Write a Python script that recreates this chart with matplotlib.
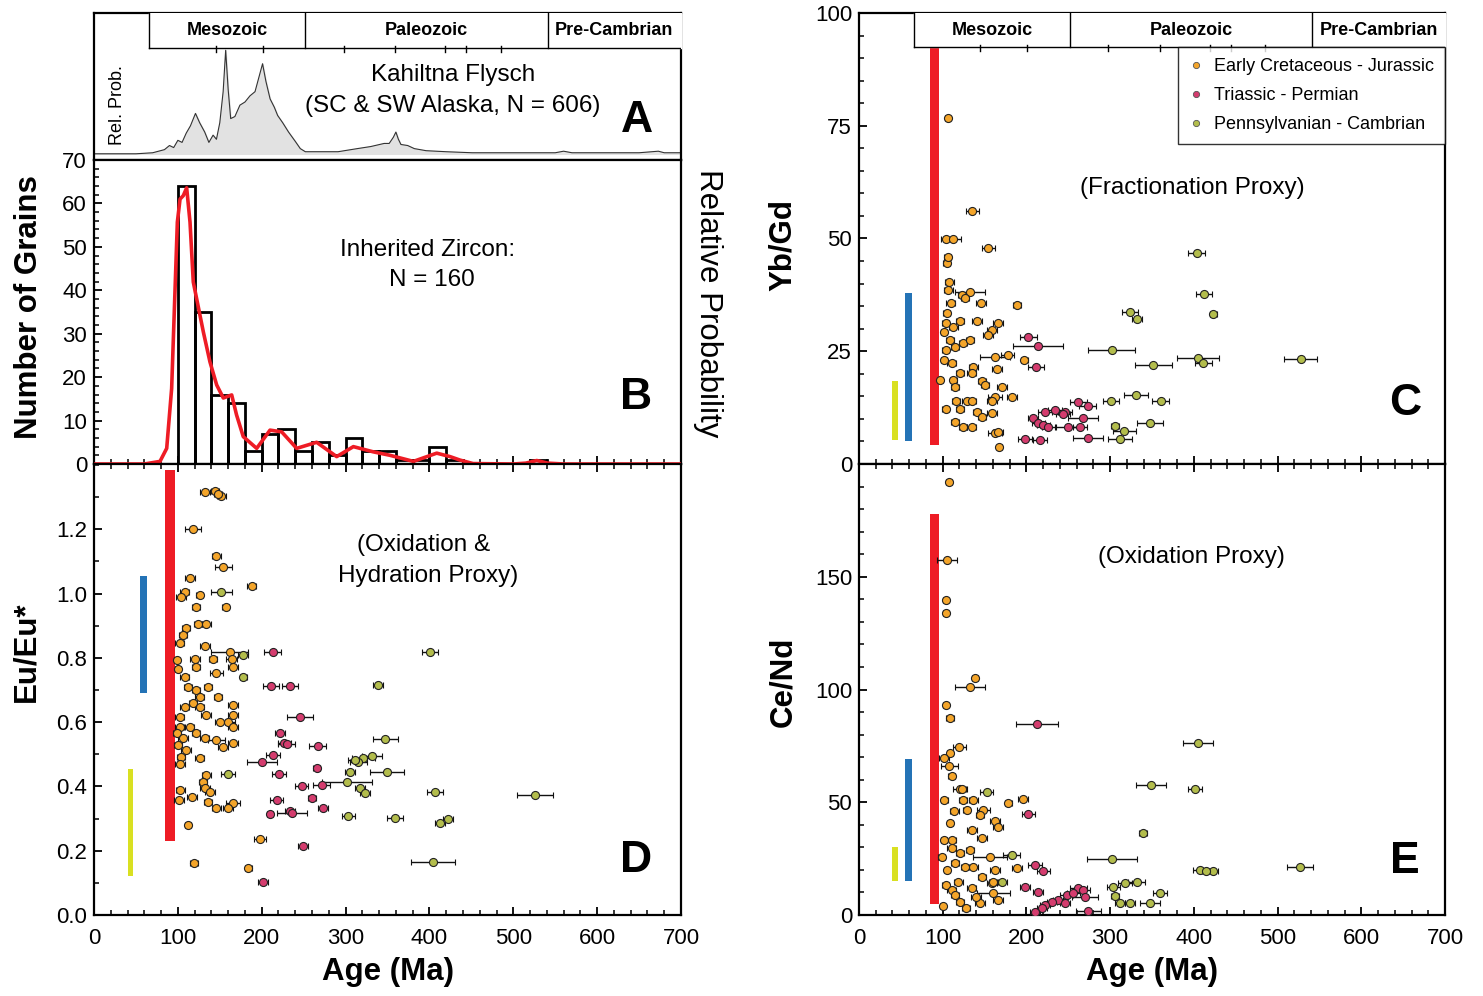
import matplotlib
matplotlib.use('Agg')
import matplotlib.pyplot as plt
from matplotlib.ticker import MultipleLocator, FormatStrFormatter
from matplotlib.lines import Line2D

plt.rcParams['font.family'] = ['Liberation Sans', 'DejaVu Sans']

# ---------------- data ----------------
era_bounds = [66, 252, 541]
era_names = ['Mesozoic', 'Paleozoic', 'Pre-Cambrian']
period_ticks = [145, 201, 298, 359, 419, 444, 485]

# Panel A: Kahiltna Flysch detrital zircon relative probability
a_age = [0, 50, 70, 84, 90, 95, 100, 105, 110, 115, 121, 126, 132, 137, 142, 146, 150, 154, 157,
         160, 163, 168, 174, 180, 186, 192, 197, 201, 205, 210, 215, 219, 225, 232, 240, 246, 252,
         270, 291, 314, 330, 346, 352, 357, 360, 363, 366, 374, 382, 396, 420, 451, 500, 550, 560,
         570, 600, 650, 673, 680, 700]
a_prob = [0.0, 0.0, 0.01, 0.04, 0.08, 0.06, 0.13, 0.11, 0.2, 0.27, 0.39, 0.3, 0.21, 0.11, 0.18, 0.14,
          0.3, 0.6, 1.0, 0.62, 0.34, 0.36, 0.47, 0.5, 0.56, 0.6, 0.75, 0.87, 0.7, 0.53, 0.45, 0.37,
          0.3, 0.21, 0.12, 0.05, 0.02, 0.02, 0.02, 0.05, 0.07, 0.1, 0.1, 0.16, 0.21, 0.14, 0.09, 0.08,
          0.05, 0.03, 0.02, 0.01, 0.01, 0.01, 0.025, 0.01, 0.01, 0.01, 0.025, 0.01, 0.01]

# Panel B: inherited zircon histogram (20 Ma bins) and probability curve
b_bin_left = [100, 120, 140, 160, 180, 200, 220, 240, 260, 280, 300, 320, 340, 360, 380, 400, 420, 520]
b_counts = [64, 35, 16, 14, 3, 7, 8, 3, 5, 2, 6, 3, 3, 1, 1, 4, 1, 1]
b_pdp_age = [0, 60, 78.7, 86.7, 92.6, 99.4, 102.6, 106.5, 110.5, 114.5, 118.4, 130.4, 138.3, 146.3,
             154.2, 164.2, 170, 178, 194, 209.9, 223.8, 241.7, 265.5, 289.4, 309.3, 333, 353, 380.9,
             408.7, 424.6, 436.5, 452, 500, 515, 528, 541, 560, 700]
b_pdp_val = [0, 0, 0.6, 3.6, 17.4, 55.7, 61, 61.8, 63.6, 55.7, 41.9, 30.4, 23.5, 18.2, 15.2, 15.9,
             11.3, 6.3, 3.6, 7.8, 7.4, 3.6, 5.0, 1.7, 4.0, 2.8, 2.0, 0.6, 2.5, 1.7, 0.9, 0.1, 0, 0.2,
             0.8, 0.2, 0, 0]

# Reference field bars: red, blue, yellow (age ranges)
ref_age_lo = [85, 55, 40]
ref_age_hi = [96, 63, 47]
ref_colors = ['#ee1c25', '#2473b6', '#d9e021']
d_ref_lo = [0.23, 0.69, 0.12]
d_ref_hi = [1.385, 1.055, 0.455]
c_ref_lo = [4.2, 5.2, 5.3]
c_ref_hi = [92.5, 38.0, 18.3]
e_ref_lo = [5.0, 15.0, 15.0]
e_ref_hi = [178.0, 69.0, 30.0]

group_labels = ['Early Cretaceous - Jurassic', 'Triassic - Permian', 'Pennsylvanian - Cambrian']
group_colors = ['#f4a52a', '#d43c6e', '#b3bd4c']

# Panel D: Eu/Eu*
d_or_age = [132, 144, 152, 148, 118, 146, 154, 114, 188, 108, 126, 104, 122, 157, 124, 134, 110, 106,
            102, 132, 162, 142, 120, 164, 99, 166, 122, 146, 100, 108, 112, 136, 122, 126, 148, 118,
            166, 108, 126, 134, 166, 102, 150, 160, 102, 114, 166, 99, 122, 106, 132, 146, 166, 154,
            100, 110, 104, 126, 102, 134, 130, 132, 138, 103, 101, 117, 136, 166, 146, 160, 112, 198,
            119, 184]
d_or_val = [1.317, 1.318, 1.303, 1.31, 1.20, 1.117, 1.083, 1.047, 1.024, 1.006, 0.997, 0.99, 0.959,
            0.959, 0.905, 0.905, 0.892, 0.871, 0.847, 0.837, 0.819, 0.796, 0.796, 0.796, 0.793, 0.772,
            0.772, 0.752, 0.764, 0.741, 0.71, 0.71, 0.70, 0.679, 0.678, 0.658, 0.653, 0.648, 0.648,
            0.622, 0.622, 0.617, 0.601, 0.601, 0.586, 0.586, 0.586, 0.565, 0.565, 0.55, 0.55, 0.544,
            0.536, 0.522, 0.529, 0.513, 0.492, 0.489, 0.47, 0.435, 0.415, 0.394, 0.384, 0.389, 0.358,
            0.366, 0.352, 0.348, 0.332, 0.332, 0.28, 0.236, 0.163, 0.147]
d_or_err = [6, 5, 5, 5, 10, 5, 10, 6, 5, 5, 4, 6, 5, 4, 5, 5, 5, 5, 5, 6, 22, 5, 6, 6, 4, 6, 5, 8, 4, 5,
            5, 5, 5, 5, 5, 5, 6, 5, 5, 6, 6, 5, 6, 8, 5, 5, 6, 5, 5, 6, 5, 10, 6, 6, 5, 6, 5, 5, 6, 5,
            5, 6, 6, 5, 6, 6, 5, 8, 5, 6, 4, 7, 5, 4]
d_pk_age = [213.3, 211, 233.7, 245.6, 221.8, 227, 230, 266.7, 213.3, 200, 220.6, 265.5, 247.7, 271.5,
            259.6, 217.9, 233.7, 235.7, 209.9, 273.5, 249.6, 201.9]
d_pk_val = [0.819, 0.712, 0.712, 0.615, 0.567, 0.534, 0.532, 0.526, 0.498, 0.477, 0.439, 0.456, 0.401,
            0.404, 0.363, 0.358, 0.324, 0.316, 0.313, 0.332, 0.216, 0.104]
d_pk_err = [10, 10, 10, 15, 6, 8, 10, 10, 8, 18, 8, 4, 8, 10, 5, 8, 6, 18, 4, 6, 6, 6]
d_ol_age = [400.7, 339, 347.4, 331.1, 321.1, 315.2, 311.2, 305.3, 349.1, 301.3, 317.2, 323.2, 406.6,
            525.9, 303.3, 359, 412.6, 422.5, 404.6, 152, 178, 178, 160]
d_ol_val = [0.819, 0.715, 0.546, 0.495, 0.487, 0.477, 0.482, 0.444, 0.444, 0.415, 0.394, 0.378, 0.382,
            0.373, 0.308, 0.303, 0.287, 0.298, 0.164, 1.006, 0.809, 0.741, 0.439]
d_ol_err = [10, 6, 15, 12, 14, 10, 8, 6, 20, 30, 6, 6, 10, 22, 8, 10, 6, 6, 26, 12, 6, 4, 8]

# Panel C: Yb/Gd
c_or_age = [106.3, 135.4, 103.6, 111.9, 154.5, 104.7, 105.9, 107.9, 106.7, 132.6, 122.7, 126.6, 188.4,
            145.7, 109.5, 104.7, 120.7, 140.6, 166.4, 103.6, 112.7, 158.5, 154.5, 101.6, 108.7, 124.6,
            103.6, 114.7, 132.6, 162.5, 177.6, 197.5, 101.6, 110.7, 136.6, 164.5, 134.6, 120.7, 96.8,
            112.7, 146.6, 150.5, 114.7, 170.4, 162.5, 183.1, 115.9, 128.6, 134.6, 103.6, 120.7, 140.6,
            158.5, 146.6, 158.5, 114.7, 124.6, 134.6, 162.5, 166.4, 167.3]
c_or_val = [76.7, 56.2, 49.8, 49.8, 47.8, 44.5, 46, 40.4, 38.6, 38.2, 37.5, 36.7, 35.3, 35.6, 35.6,
            33.4, 31.6, 31.6, 31.3, 31.2, 30.4, 29.7, 28.6, 29.3, 27.5, 26.8, 25.3, 26.0, 27.5, 23.8,
            24.2, 23.1, 23.1, 22.3, 21.6, 21.0, 20.1, 20.1, 18.6, 18.6, 18.5, 17.5, 17.1, 17.1, 14.9,
            14.8, 14.0, 14.0, 14.0, 12.3, 12.1, 11.6, 14.0, 10.5, 11.2, 9.4, 8.3, 8.3, 6.8, 7.2, 3.8]
c_or_err = [3, 8, 6, 10, 8, 4, 4, 5, 5, 18, 5, 5, 5, 6, 5, 4, 5, 6, 6, 4, 5, 6, 6, 4, 5, 5, 4, 5, 5, 18,
            8, 4, 4, 5, 5, 6, 5, 5, 3, 4, 5, 5, 5, 6, 8, 6, 5, 5, 5, 4, 5, 5, 6, 5, 6, 5, 5, 5, 8, 6, 3]
c_pk_age = [202.3, 213.4, 211.4, 262, 273.2, 234.2, 222.2, 246.1, 268, 208.2, 214.2, 220.2, 226.1,
            250.1, 264, 198.3, 216.2, 274, 243.7]
c_pk_val = [28.1, 26.2, 21.4, 13.8, 12.9, 12.0, 11.6, 11.6, 10.1, 10.1, 9.0, 8.6, 8.3, 8.3, 8.3, 5.5,
            5.3, 5.8, 11.0]
c_pk_err = [10, 30, 10, 10, 10, 8, 8, 8, 18, 6, 8, 8, 8, 15, 8, 8, 8, 18, 8]
c_ol_age = [403.4, 412.2, 423.4, 405.3, 411.3, 527.6, 351.6, 360.4, 323.7, 332.5, 301.9, 330.8, 301.1,
            347.6, 305.8, 317, 311.8]
c_ol_val = [46.7, 37.8, 33.3, 23.4, 22.5, 23.3, 22.0, 14.0, 33.6, 32.2, 25.3, 15.3, 14.0, 9.2, 8.5,
            7.3, 5.5]
c_ol_err = [10, 10, 4, 25, 10, 20, 22, 10, 10, 6, 28, 14, 10, 16, 5, 14, 14]

# Panel E: Ce/Nd
e_or_age = [107.5, 104.7, 103.9, 103.9, 138.6, 132.6, 103.9, 108.7, 119.8, 108.7, 101.6, 107.9, 110.7,
            120.7, 122.7, 101.8, 124.6, 136.6, 113.9, 128.6, 148.6, 178.4, 196.3, 144.6, 108.7, 162.5,
            166.4, 134.6, 146.6, 101.6, 110.7, 110.7, 132.6, 120.7, 98.8, 114.7, 136.6, 126.6, 146.6,
            103.6, 110.7, 118.8, 114.7, 134.6, 144.6, 120.7, 156.5, 162.5, 158.5, 160.5, 166.4, 188.4,
            160.5, 128, 140, 105, 100]
e_or_val = [192.1, 157.3, 139.7, 134.1, 104.9, 101.2, 93.0, 87.4, 74.5, 71.9, 69.6, 65.9, 61.5, 55.9,
            56, 50.8, 51.1, 51.1, 45.9, 46.7, 46.4, 49.6, 51.6, 44.4, 40.7, 41.5, 39.2, 37.8, 34.1,
            33.3, 33.3, 29.6, 28.9, 27.7, 25.9, 23.0, 21.2, 21.5, 17.0, 13.3, 11.1, 14.8, 8.9, 11.9,
            5.2, 5.9, 25.9, 20, 14.1, 9.6, 6.7, 20.7, 14.8, 3, 8, 20, 4]
e_or_err = [3, 12, 3, 3, 4, 18, 3, 5, 8, 4, 6, 10, 4, 8, 5, 4, 5, 5, 5, 4, 8, 4, 6, 5, 4, 6, 6, 6, 6, 4,
            5, 5, 5, 5, 4, 5, 6, 5, 5, 4, 5, 5, 5, 5, 6, 5, 20, 6, 6, 20, 6, 6, 5, 5, 6, 4, 3]
e_pk_age = [212.6, 202.3, 210.2, 220.2, 198.3, 214.2, 262, 268, 270, 248.1, 238.1, 230.2, 222.2, 218.2,
            246.1, 274, 210.2, 256]
e_pk_val = [84.9, 44.7, 22.2, 19.7, 12.6, 10.4, 11.9, 11.1, 7.9, 8.9, 6.7, 5.9, 4.4, 3.0, 5.2, 1.9,
            1.5, 9.6]
e_pk_err = [25, 8, 8, 8, 6, 6, 10, 8, 15, 8, 6, 6, 6, 6, 6, 15, 6, 8]
e_ol_age = [404.6, 348.8, 401.4, 339.6, 301.9, 526.8, 407.4, 423.3, 415, 331.7, 317.8, 303.8, 359.6,
            305.8, 311.8, 323.7, 347.6, 152.5, 182.4, 170.4]
e_ol_val = [76.3, 57.8, 56, 36.3, 24.7, 21.5, 20, 19.3, 19.6, 14.8, 14.1, 12.6, 9.6, 8.4, 5.2, 5.4, 5.2,
            54.4, 26.7, 14.8]
e_ol_err = [18, 18, 8, 5, 30, 15, 8, 5, 5, 10, 8, 8, 8, 5, 6, 6, 12, 8, 10, 6]

d_yticks = [0.0, 0.2, 0.4, 0.6, 0.8, 1.0, 1.2]
e_yticks = [0, 50, 100, 150]

# ---------------- figure ----------------
W, H = 1483, 996
fig = plt.figure(figsize=(W / 100, H / 100), dpi=100)


def box(x0, y0, x1, y1):
    return [x0 / W, 1 - y1 / H, (x1 - x0) / W, (y1 - y0) / H]


axA = fig.add_axes(box(94, 13, 681, 160))
axB = fig.add_axes(box(94, 160, 681, 464))
axD = fig.add_axes(box(94, 464, 681, 915))
axC = fig.add_axes(box(859, 13, 1445, 464))
axE = fig.add_axes(box(859, 464, 1445, 915))

TICK_FS = 16
LAB_FS = 22.5
ANN_FS = 17.5
LET_FS = 32

for ax in (axA, axB, axD, axC, axE):
    ax.set_xlim(0, 700)
    for s in ax.spines.values():
        s.set_linewidth(1.6)
    ax.tick_params(which='major', length=6, width=1.3, labelsize=TICK_FS)
    ax.tick_params(which='minor', length=3.5, width=1.1)
    ax.tick_params(axis='x', which='major', pad=9)
    ax.tick_params(axis='y', which='major', pad=5)
    ax.xaxis.set_major_locator(MultipleLocator(100))
    ax.xaxis.set_minor_locator(MultipleLocator(20))


def draw_era(ax, y0, ax_h_px):
    tr = ax.get_xaxis_transform()
    ax.fill_between([era_bounds[0], 700], [y0, y0], [1, 1], transform=tr, color='white', zorder=5)
    ax.plot([era_bounds[0], 700], [y0, y0], transform=tr, color='k', lw=1.0, zorder=6)
    for b in era_bounds:
        ax.plot([b, b], [y0, 1], transform=tr, color='k', lw=1.0, zorder=6)
    dy = 4.0 / ax_h_px
    for t in period_ticks:
        ax.plot([t, t], [y0 - dy, y0 + dy * 0.6], transform=tr, color='k', lw=1.0, zorder=6)
    edges = era_bounds + [700]
    for i, name in enumerate(era_names):
        ax.text((edges[i] + edges[i + 1]) / 2, (y0 + 1) / 2, name, transform=tr, ha='center',
                va='center', fontsize=13, fontweight='bold', zorder=7)


def scatter_groups(ax, groups):
    for (ages, vals, errs), col in zip(groups, [group_colors[1], group_colors[2], group_colors[0]]):
        ax.errorbar(ages, vals, xerr=errs, fmt='o', ms=5.8, mfc=col, mec='#222222', mew=0.8,
                    ecolor='#111111', elinewidth=1.0, capsize=2.3, capthick=1.0, zorder=3)


def ref_bars(ax, lo, hi):
    for a0, a1, v0, v1, c in zip(ref_age_lo, ref_age_hi, lo, hi, ref_colors):
        ax.bar(a0, v1 - v0, bottom=v0, width=a1 - a0, align='edge', color=c, edgecolor='none', zorder=2)


# ---- Panel A ----
axA.set_ylim(-0.06, 1.36)
axA.fill_between(a_age, a_prob, 0, color='#e2e2e2', zorder=1)
axA.plot(a_age, a_prob, color='#333333', lw=0.8, zorder=2)
axA.set_xticks([])
axA.set_yticks([])
draw_era(axA, 0.762, 147)
trA = axA.get_xaxis_transform()
axA.text(428, 0.578, 'Kahiltna Flysch', transform=trA, ha='center', va='center', fontsize=ANN_FS)
axA.text(428, 0.367, '(SC & SW Alaska, N = 606)', transform=trA, ha='center', va='center',
         fontsize=ANN_FS)
axA.text(647, 0.27, 'A', transform=trA, ha='center', va='center', fontsize=LET_FS, fontweight='bold')
axA.text(28.6, 0.374, 'Rel. Prob.', transform=trA, ha='center', va='center', fontsize=13, rotation=90)

# ---- Panel B ----
axB.set_ylim(0, 70)
axB.bar(b_bin_left, b_counts, width=20, align='edge', fill=False, edgecolor='black', lw=2.0, zorder=2)
axB.plot(b_pdp_age, b_pdp_val, color='#ee1c25', lw=2.6, zorder=3)
axB.yaxis.set_major_locator(MultipleLocator(10))
axB.yaxis.set_minor_locator(MultipleLocator(2))
axB.tick_params(axis='y', which='both', direction='in', left=True, right=False)
axB.tick_params(axis='x', which='both', direction='in', bottom=True, top=False, labelbottom=False)
axB.set_ylabel('Number of Grains', fontsize=LAB_FS, fontweight='bold')
axB.yaxis.set_label_coords(-0.085, 0.516)
axB.text(398, 49.3, 'Inherited Zircon:', ha='center', va='center', fontsize=ANN_FS)
axB.text(403, 42.4, 'N = 160', ha='center', va='center', fontsize=ANN_FS)
axB.text(647, 15.4, 'B', ha='center', va='center', fontsize=LET_FS, fontweight='bold')
fig.text(708 / W, 1 - 303 / H, 'Relative Probability', rotation=-90, ha='center', va='center',
         fontsize=LAB_FS)

# ---- Panel D ----
axD.set_ylim(0, 1.403)
ref_bars(axD, d_ref_lo, d_ref_hi)
scatter_groups(axD, [(d_pk_age, d_pk_val, d_pk_err), (d_ol_age, d_ol_val, d_ol_err),
                     (d_or_age, d_or_val, d_or_err)])
axD.set_yticks(d_yticks)
axD.yaxis.set_minor_locator(MultipleLocator(0.1))
axD.yaxis.set_major_formatter(FormatStrFormatter('%.1f'))
axD.tick_params(axis='both', which='both', direction='in', top=True, bottom=True, left=True, right=False)
axD.set_ylabel('Eu/Eu*', fontsize=LAB_FS, fontweight='bold')
axD.yaxis.set_label_coords(-0.089, 0.583)
axD.set_xlabel('Age (Ma)', fontsize=LAB_FS, fontweight='bold', labelpad=6)
axD.text(393.5, 1.151, '(Oxidation &', ha='center', va='center', fontsize=ANN_FS)
axD.text(398, 1.054, 'Hydration Proxy)', ha='center', va='center', fontsize=ANN_FS)
axD.text(647, 0.171, 'D', ha='center', va='center', fontsize=LET_FS, fontweight='bold')

# ---- Panel C ----
axC.set_ylim(0, 100)
ref_bars(axC, c_ref_lo, c_ref_hi)
scatter_groups(axC, [(c_pk_age, c_pk_val, c_pk_err), (c_ol_age, c_ol_val, c_ol_err),
                     (c_or_age, c_or_val, c_or_err)])
draw_era(axC, 0.9246, 451)
axC.yaxis.set_major_locator(MultipleLocator(25))
axC.yaxis.set_minor_locator(MultipleLocator(5))
axC.tick_params(axis='y', which='both', direction='in', left=True, right=False)
axC.tick_params(axis='x', which='both', direction='in', bottom=True, top=False, labelbottom=False)
axC.set_ylabel('Yb/Gd', fontsize=LAB_FS, fontweight='bold')
axC.yaxis.set_label_coords(-0.104, 0.486)
axC.text(397.8, 61.2, '(Fractionation Proxy)', ha='center', va='center', fontsize=ANN_FS)
axC.text(652, 13.5, 'C', ha='center', va='center', fontsize=LET_FS, fontweight='bold')
handles = [Line2D([], [], ls='none', marker='o', ms=4.5, mfc=c, mec='#555555', mew=0.6)
           for c in group_colors]
leg = axC.legend(handles, group_labels, loc='upper right', bbox_to_anchor=(1.0, 0.9246),
                 borderaxespad=0, fontsize=13, frameon=True, fancybox=False, handlelength=0.8,
                 handletextpad=0.6, labelspacing=0.68, borderpad=0.6)
leg.get_frame().set_edgecolor('black')
leg.get_frame().set_linewidth(1.0)
leg.set_zorder(8)

# ---- Panel E ----
axE.set_ylim(0, 200)
ref_bars(axE, e_ref_lo, e_ref_hi)
scatter_groups(axE, [(e_pk_age, e_pk_val, e_pk_err), (e_ol_age, e_ol_val, e_ol_err),
                     (e_or_age, e_or_val, e_or_err)])
axE.set_yticks(e_yticks)
axE.yaxis.set_minor_locator(MultipleLocator(10))
axE.tick_params(axis='both', which='both', direction='in', top=True, bottom=True, left=True, right=False)
axE.set_ylabel('Ce/Nd', fontsize=LAB_FS, fontweight='bold')
axE.yaxis.set_label_coords(-0.104, 0.517)
axE.set_xlabel('Age (Ma)', fontsize=LAB_FS, fontweight='bold', labelpad=6)
axE.text(396.6, 158.7, '(Oxidation Proxy)', ha='center', va='center', fontsize=ANN_FS)
axE.text(652, 23.6, 'E', ha='center', va='center', fontsize=LET_FS, fontweight='bold')

fig.savefig('out.png', dpi=100)
